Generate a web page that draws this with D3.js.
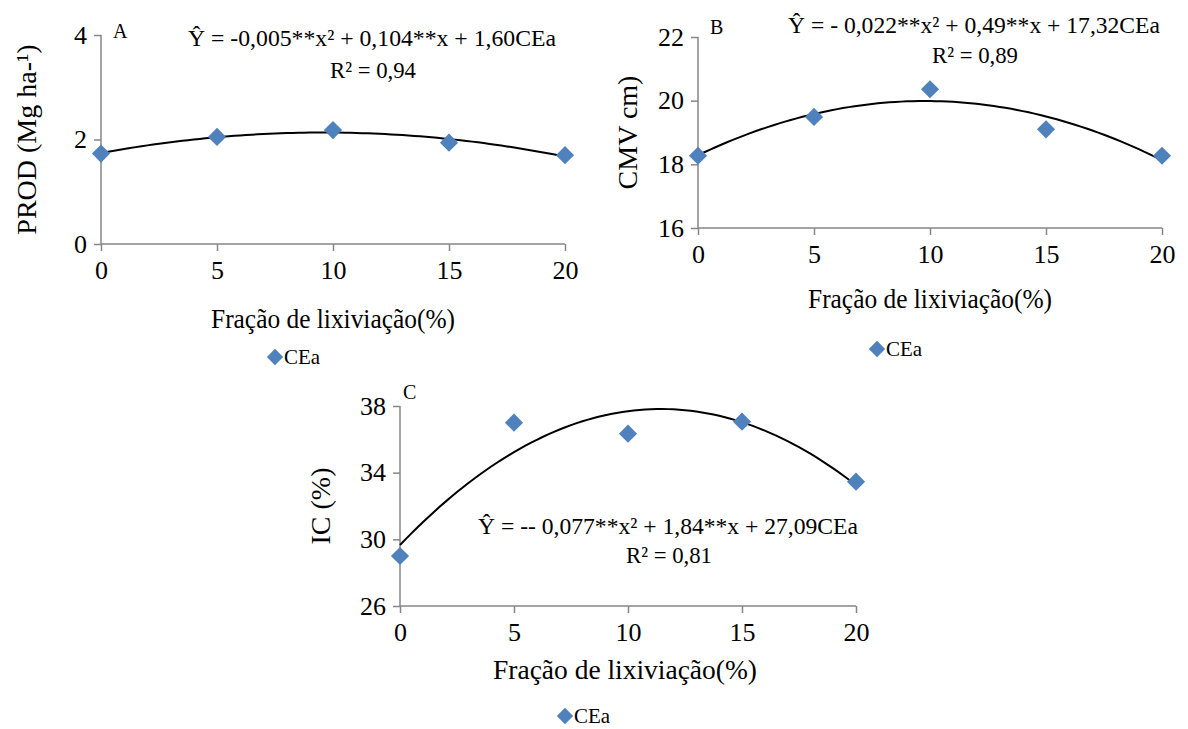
<!DOCTYPE html>
<html><head><meta charset="utf-8">
<script src="https://cdn.jsdelivr.net/npm/d3@7"></script>
<style>body{margin:0;background:#fff}svg{display:block}text{font-family:"Liberation Serif","Times New Roman",serif !important;fill:#000}</style>
</head><body><svg id="c" width="1188" height="729"></svg>
<script>
const xValues = [0, 5, 10, 15, 20];
const xTicks = [0, 5, 10, 15, 20];
const prodValues = [1.73, 2.05, 2.18, 1.94, 1.70];
const cmvValues = [18.27, 19.49, 20.36, 19.10, 18.27];
const icValues = [29.0, 37.0, 36.34, 37.06, 33.46];
const prodTicks = [0, 2, 4];
const cmvTicks = [16, 18, 20, 22];
const icTicks = [26, 30, 34, 38];
const xTitle = "Fração de lixiviação(%)";
const seriesName = "CEa";
const panelLabels = ["A", "B", "C"];
const yTitles = ["PROD (Mg ha-¹)", "CMV cm)", "IC (%)"];
const equations = ["Ŷ = -0,005**x² + 0,104**x + 1,60CEa", "Ŷ = - 0,022**x² + 0,49**x + 17,32CEa", "Ŷ = -- 0,077**x² + 1,84**x + 27,09CEa"];
const r2Labels = ["R² = 0,94", "R² = 0,89", "R² = 0,81"];

// least-squares quadratic trendline (as the spreadsheet did)
function quadFit(xs, ys) {
  let s = [0,0,0,0,0], t = [0,0,0];
  xs.forEach((x,i)=>{ for(let k=0;k<5;k++) s[k]+=Math.pow(x,k); for(let k=0;k<3;k++) t[k]+=ys[i]*Math.pow(x,k); });
  const M = [[s[0],s[1],s[2],t[0]],[s[1],s[2],s[3],t[1]],[s[2],s[3],s[4],t[2]]];
  for (let i=0;i<3;i++){ for(let j=i+1;j<3;j++){ const f=M[j][i]/M[i][i]; for(let k=i;k<4;k++) M[j][k]-=f*M[i][k]; } }
  const c=[0,0,0];
  for (let i=2;i>=0;i--){ let v=M[i][3]; for(let k=i+1;k<3;k++) v-=M[i][k]*c[k]; c[i]=v/M[i][i]; }
  return x => c[0]+c[1]*x+c[2]*x*x;
}

const panels = [
  {vals: prodValues, ticks: prodTicks, L:101, R:565, T:35, B:244, yt:{x:26}, lab:{x:113,y:38},
   eq:{x:372,y:46,w:368}, r2:{x:373,y:78,w:86}, xt:{x:333,y:328,w:244}, leg:{x:275,y:357}},
  {vals: cmvValues, ticks: cmvTicks, L:698, R:1162, T:37, B:228, yt:{x:627}, lab:{x:710,y:34},
   eq:{x:974,y:33,w:372}, r2:{x:975,y:63,w:86}, xt:{x:930,y:308,w:244}, leg:{x:877,y:349}},
  {vals: icValues, ticks: icTicks, L:400, R:856, T:406, B:606, yt:{x:320}, lab:{x:403,y:399},
   eq:{x:668,y:534,w:380}, r2:{x:669,y:563,w:86}, xt:{x:625,y:679,w:264}, leg:{x:565,y:716}}
];

const svg = d3.select("#c");
const axisCol = "#868686", blue = "#4F81BD";
const diamondType = d3.symbolDiamond2 || d3.symbolDiamond;
const serif = '"Liberation Serif", "Times New Roman", serif';

panels.forEach((p, i) => {
  const x = d3.scaleLinear().domain([0,20]).range([p.L, p.R]);
  const y = d3.scaleLinear().domain([p.ticks[0], p.ticks[p.ticks.length-1]]).range([p.B, p.T]);
  const g = svg.append("g");
  const ya = g.append("g").attr("transform", `translate(${p.L},0)`)
    .call(d3.axisLeft(y).tickValues(p.ticks).tickFormat(d3.format("d")).tickSize(7).tickPadding(7));
  const xa = g.append("g").attr("transform", `translate(0,${p.B})`)
    .call(d3.axisBottom(x).tickValues(xTicks).tickFormat(d3.format("d")).tickSize(7).tickPadding(10));
  [ya, xa].forEach(a => {
    a.attr("font-family", serif).attr("font-size", 26);
    a.select(".domain").attr("stroke", axisCol).attr("stroke-width", 1.5);
    a.selectAll(".tick line").attr("stroke", axisCol).attr("stroke-width", 1.5);
    a.selectAll(".tick text").attr("fill", "#000").style("font-family", serif).style("font-size", "26px");
  });
  ya.select(".domain").attr("d", `M0,${p.B}V${p.T}`);
  xa.select(".domain").attr("d", `M${p.L},0H${p.R}`);
  const f = quadFit(xValues, p.vals);
  const xs = d3.range(0, 20.01, 0.25);
  g.append("path").attr("d", d3.line().x(d=>x(d)).y(d=>y(f(d)))(xs))
    .attr("fill","none").attr("stroke","#000").attr("stroke-width",2);
  g.selectAll(".pt").data(xValues).join("path")
    .attr("d", d3.symbol().type(diamondType).size(210))
    .attr("transform", (d,j)=>`translate(${x(d)},${y(p.vals[j])})`).attr("fill", blue);
  g.append("text").attr("x", p.lab.x).attr("y", p.lab.y).attr("font-size", 20).text(panelLabels[i]);
  g.append("text").attr("x", p.eq.x).attr("y", p.eq.y).attr("text-anchor","middle").attr("font-size", 23)
    .attr("textLength", p.eq.w).attr("lengthAdjust","spacingAndGlyphs").text(equations[i]);
  g.append("text").attr("x", p.r2.x).attr("y", p.r2.y).attr("text-anchor","middle").attr("font-size", 23)
    .attr("textLength", p.r2.w).attr("lengthAdjust","spacingAndGlyphs").text(r2Labels[i]);
  g.append("text").attr("x", p.xt.x).attr("y", p.xt.y).attr("text-anchor","middle").attr("font-size", 28)
    .attr("textLength", p.xt.w).attr("lengthAdjust","spacingAndGlyphs").text(xTitle);
  g.append("text").attr("transform", `translate(${p.yt.x},${(p.T+p.B)/2}) rotate(-90)`).attr("text-anchor","middle")
    .attr("dy", "0.35em").attr("font-size", 28).text(yTitles[i]);
  g.append("path").attr("d", d3.symbol().type(diamondType).size(170)).attr("fill", blue)
    .attr("transform", `translate(${p.leg.x},${p.leg.y})`);
  g.append("text").attr("x", p.leg.x+9).attr("y", p.leg.y+7).attr("font-size", 21).text(seriesName);
});
</script></body></html>
